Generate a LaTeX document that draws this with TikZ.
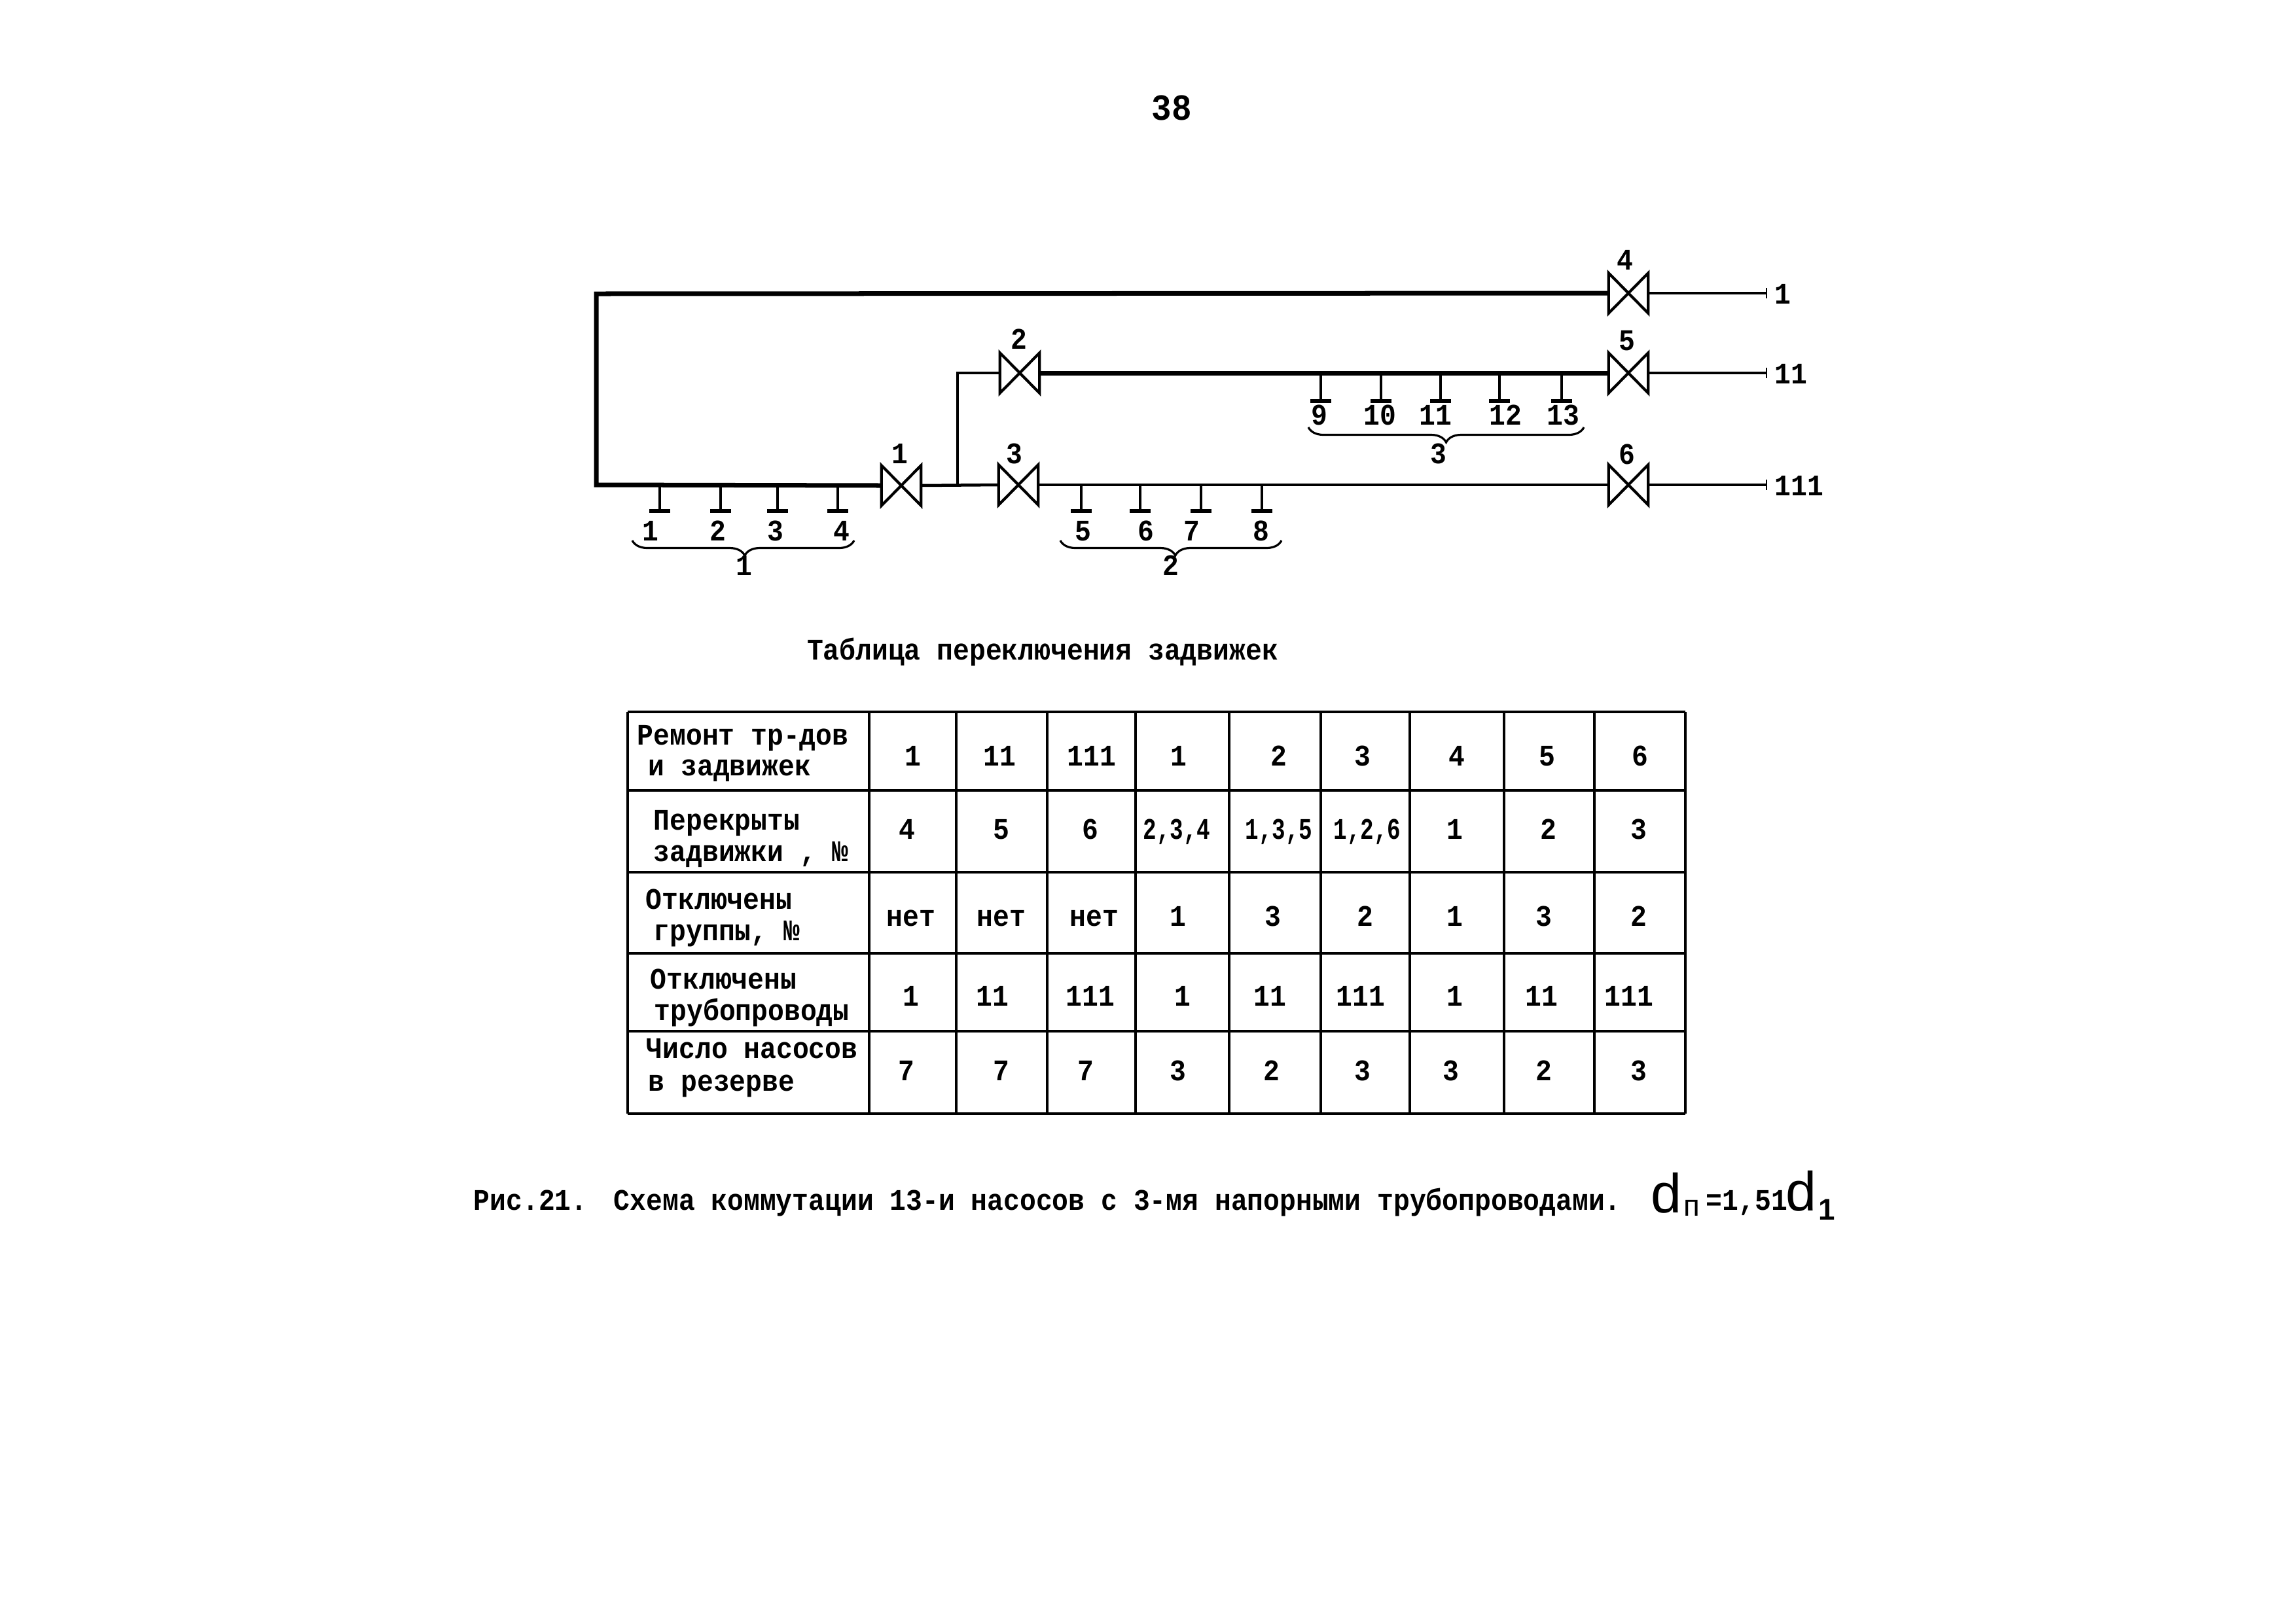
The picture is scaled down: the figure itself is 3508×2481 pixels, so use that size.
\documentclass[tikz,border=0pt]{standalone}
\usepackage{fontspec}
\setmainfont[FakeStretch=0.905]{Liberation Mono}
\newfontfamily\narrowfont[FakeStretch=0.75]{Liberation Mono}
\newfontfamily\handfont{Liberation Sans}
\usetikzlibrary{decorations.pathreplacing}
\tikzset{
  txt/.style={inner sep=0pt,text height=0.30cm,text depth=0pt,font=\fontsize{13}{15}\selectfont\bfseries},
  cell/.style={txt,anchor=center},
  lefttext/.style={txt,anchor=west},
  valve/.style={inner sep=0pt,minimum width=0.59cm,minimum height=0.60cm},
  valveline/.style={line width=0.042cm,line join=miter},
  thickpipe/.style={line width=0.07cm},
  midpipe/.style={line width=0.045cm},
  thinpipe/.style={line width=0.032cm},
  tapline/.style={line width=0.04cm},
  tapbar/.style={line width=0.055cm},
  gridline/.style={line width=0.035cm},
  bracestyle/.style={line width=0.032cm,decoration={brace,mirror,amplitude=0.23cm,aspect=#1},decorate},
  hand/.style={inner sep=0pt,font=\handfont\fontsize{24}{24}\selectfont}
}
\begin{document}
\begin{tikzpicture}[x=0.01cm,y=-0.01cm]
\useasboundingbox[fill=white] (0,0) rectangle (3508,2481);

\node[inner sep=0pt,font=\fontsize{16}{18}\selectfont\bfseries] (page) at (1790,165) {38};

% valves
\foreach \n/\x/\y in {1/1377/742,2/1558/570,3/1556/741,4/2488/448,5/2488/570,6/2488/741}{
  \node[valve] (v\n) at (\x,\y) {};
  \draw[valveline] (v\n.north west) -- (v\n.south east) -- (v\n.north east) -- (v\n.south west) -- cycle;
}
\foreach \n/\x/\y in {1/1375/693,2/1557/518,3/1550/693,4/2483/397,5/2486/520,6/2486/694}
  \node[cell] (vl\n) at (\x,\y) {\n};

% pipes
\coordinate (ct) at (911,449);
\coordinate (cb) at (911,741);
\coordinate (jt) at (1463,570);
\coordinate (jb) at (1463,741);
\coordinate (e1) at (2699,448);
\coordinate (e2) at (2699,570);
\coordinate (e3) at (2699,741);
\draw[thickpipe,line join=miter] (v4.west) -- (ct) -- (cb) -- (v1.west);
\draw[thickpipe] (v2.east) -- (v5.west);
\draw[midpipe] (v3.east) -- (v6.west);
\draw[midpipe] (v1.east) -- (v3.west);
\draw[midpipe] (jb) -- (jt) -- (v2.west);
\draw[thinpipe] (v4.east) -- (e1);
\draw[thinpipe] (v5.east) -- (e2);
\draw[midpipe] (v6.east) -- (e3);
\foreach \n in {1,2,3} \draw[line width=0.02cm] ([yshift=0.08cm]e\n) -- ([yshift=-0.08cm]e\n);
\node[cell] (o1) at (2724,449) {1};
\node[cell] (o2) at (2736,571) {11};
\node[cell] (o3) at (2749,742) {111};

% pump taps, lower lines
\foreach \n/\x in {1/1008,2/1101,3/1188,4/1280,5/1652,6/1742,7/1835,8/1928}{
  \coordinate (ta\n) at (\x,741);
  \coordinate (tb\n) at (\x,781);
  \draw[tapline] (ta\n) -- (tb\n);
  \draw[tapbar] ([xshift=-0.16cm]tb\n) -- ([xshift=0.16cm]tb\n);
}
% pump taps, upper line
\foreach \n/\x in {9/2018,10/2110,11/2201,12/2291,13/2386}{
  \coordinate (ta\n) at (\x,570);
  \coordinate (tb\n) at (\x,613);
  \draw[tapline] (ta\n) -- (tb\n);
  \draw[tapbar] ([xshift=-0.16cm]tb\n) -- ([xshift=0.16cm]tb\n);
}
\foreach \n/\x in {1/994,2/1097,3/1185,4/1286,5/1655,6/1751,7/1821,8/1927}
  \node[cell] (pl\n) at (\x,811) {\n};
\foreach \n/\x in {9/2016,10/2108,11/2193,12/2300,13/2388}
  \node[cell] (pl\n) at (\x,634) {\n};

% braces
\coordinate (b1a) at (966,826); \coordinate (b1b) at (1305,826);
\coordinate (b2a) at (1620,826); \coordinate (b2b) at (1958,826);
\coordinate (b3a) at (1999,653); \coordinate (b3b) at (2420,653);
\draw[bracestyle=0.507] (b1a) -- (b1b);
\draw[bracestyle=0.52] (b2a) -- (b2b);
\draw[bracestyle=0.50] (b3a) -- (b3b);
\node[cell] (g1) at (1137,864) {1};
\node[cell] (g2) at (1789,864) {2};
\node[cell] (g3) at (2198,693) {3};

% table title
\node[cell] (title) at (1593,993) {Таблица переключения задвижек};

% table grid
\foreach \x in {959,1328,1461,1600,1735,1878,2018,2154,2298,2436,2575}
  \draw[gridline] (\x,1088) -- (\x,1702);
\foreach \y in {1088,1208,1333,1457,1576,1702}
  \draw[gridline] (959,\y) -- (2575,\y);

% first column
\node[lefttext] (h1a) at (973,1123) {Ремонт тр-дов};
\node[lefttext] (h1b) at (990,1170) {и задвижек};
\node[lefttext] (h2a) at (998,1253) {Перекрыты};
\node[lefttext] (h2b) at (998,1301) {задвижки , №};
\node[lefttext] (h3a) at (986,1374) {Отключены};
\node[lefttext] (h3b) at (998,1422) {группы, №};
\node[lefttext] (h4a) at (993,1496) {Отключены};
\node[lefttext] (h4b) at (999,1544) {трубопроводы};
\node[lefttext] (h5a) at (987,1602) {Число насосов};
\node[lefttext] (h5b) at (990,1652) {в резерве};

% table cells
\foreach \x/\t [count=\n] in {1395/1,1527/11,1668/111,1801/1,1954/2,2082/3,2226/4,2364/5,2506/6}
  \node[cell] (ra\n) at (\x,1155) {\t};
\foreach \x/\t [count=\n] in {1386/4,1530/5,1666/6,1798/{\narrowfont 2,3,4},1954/{\narrowfont 1,3,5},2089/{\narrowfont 1,2,6},2223/1,2366/2,2504/3}
  \node[cell] (rb\n) at (\x,1267) {\t};
\foreach \x/\t [count=\n] in {1392/нет,1530/нет,1672/нет,1800/1,1945/3,2086/2,2223/1,2359/3,2504/2}
  \node[cell] (rc\n) at (\x,1400) {\t};
\foreach \x/\t [count=\n] in {1392/1,1516/11,1666/111,1807/1,1940/11,2079/111,2223/1,2355/11,2489/111}
  \node[cell] (rd\n) at (\x,1522) {\t};
\foreach \x/\t [count=\n] in {1385/7,1530/7,1659/7,1800/3,1943/2,2082/3,2217/3,2359/2,2504/3}
  \node[cell] (re\n) at (\x,1636) {\t};

% caption
\node[lefttext] (cap1) at (723,1834) {Рис.21.};
\node[lefttext] (cap2) at (937,1834) {Схема коммутации 13-и насосов с 3-мя напорными трубопроводами.};
\node[hand,anchor=base west] (d1) at (2522,1853) {d};
\node[hand,anchor=base west,font=\handfont\fontsize{13}{13}\selectfont] (d1s) at (2572,1858) {п};
\node[lefttext] (cap3) at (2606,1834) {=1,51};
\node[hand,anchor=base west] (d2) at (2728,1850) {d};
\node[hand,anchor=base west,font=\handfont\fontsize{13}{13}\selectfont\bfseries] (d2s) at (2778,1864) {1};
\end{tikzpicture}
\end{document}
